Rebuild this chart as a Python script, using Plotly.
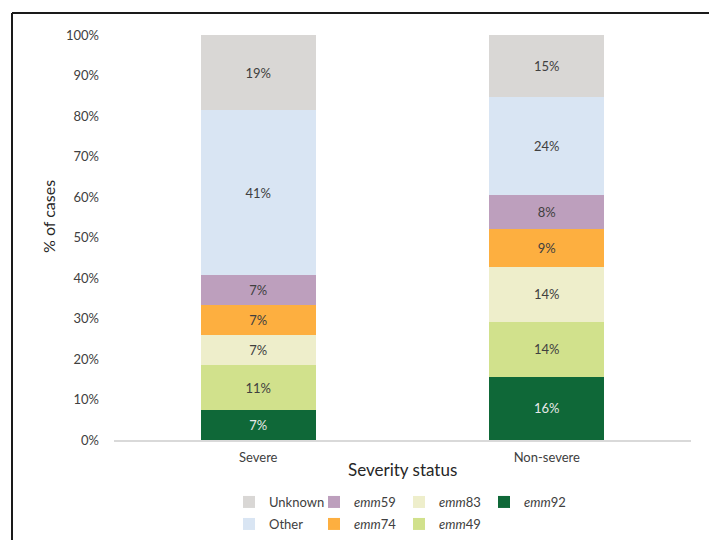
import plotly.graph_objects as go

# Categories and series (percent of cases, stacked bottom to top)
categories = ["Severe", "Non-severe"]
series_names = ["<i>emm</i>92", "<i>emm</i>49", "<i>emm</i>83", "<i>emm</i>74",
                "<i>emm</i>59", "Other", "Unknown"]
emm92 = [7.4, 15.6]
emm49 = [11.1, 13.6]
emm83 = [7.4, 13.6]
emm74 = [7.4, 9.3]
emm59 = [7.4, 8.3]
other = [40.7, 24.3]
unknown = [18.5, 15.3]
series_values = [emm92, emm49, emm83, emm74, emm59, other, unknown]

colors = ["#0f6838", "#d1e18c", "#eeeecb", "#fdaf40", "#bd9fbd", "#d9e5f3", "#d9d7d5"]
text_colors = ["#e8e8e8", "#404040", "#404040", "#404040", "#404040", "#404040", "#404040"]
# legend rows: Unknown, emm59, emm83, emm92 / Other, emm74, emm49
legend_group = ["legend", "legend2", "legend", "legend2", "legend", "legend2", "legend"]

y_ticks = list(range(0, 101, 10))
y_tick_labels = [f"{v}%" for v in y_ticks]

FONT = "Lato, 'Open Sans', sans-serif"
TXT = "#404040"

fig = go.Figure()
for name, vals, col, tcol, lg in zip(series_names, series_values, colors, text_colors, legend_group):
    fig.add_trace(go.Bar(
        x=categories, y=vals, name=name,
        marker=dict(color=col, line=dict(width=0)),
        texttemplate="%{y:.0f}%", textposition="inside", insidetextanchor="middle",
        textangle=0,
        textfont=dict(family=FONT, size=13, color=tcol),
        hoverinfo="skip", legend=lg,
    ))

L, R, T, B = 114, 18, 35, 100
W, H = 709, 540
pw, ph = W - L - R, H - T - B


def px(xp):
    return (xp - L) / pw


def py(yp):
    return (H - B - yp) / ph


legend_common = dict(
    orientation="h", traceorder="reversed", xanchor="left", yanchor="middle",
    font=dict(family=FONT, size=13, color=TXT), bgcolor="rgba(0,0,0,0)",
    entrywidth=40, entrywidthmode="pixels", itemwidth=30, tracegroupgap=0,
)

fig.update_layout(
    width=W, height=H,
    margin=dict(l=L, r=R, t=T, b=B, autoexpand=False),
    paper_bgcolor="white", plot_bgcolor="white",
    barmode="stack", bargap=0.6,
    font=dict(family=FONT, size=13, color=TXT),
    showlegend=True,
    legend=dict(x=px(229), y=py(502), **legend_common),
    legend2=dict(x=px(229), y=py(524), **legend_common),
    xaxis=dict(
        showline=True, linecolor="#d9d9d9", linewidth=1.5,
        showgrid=False, zeroline=False, ticks="", ticklabelstandoff=5,
        tickfont=dict(family=FONT, size=13, color=TXT),
    ),
    yaxis=dict(
        range=[0, 100], tickvals=y_ticks, ticktext=y_tick_labels,
        showgrid=False, zeroline=False, showline=False, ticks="",
        ticklabelstandoff=14,
        tickfont=dict(family=FONT, size=13, color=TXT),
    ),
    annotations=[
        dict(text="Severity status", xref="paper", yref="paper",
             x=px(402), y=py(470), showarrow=False, xanchor="center", yanchor="middle",
             font=dict(family=FONT, size=17, color="#262626")),
        dict(text="% of cases", xref="paper", yref="paper", textangle=-90,
             x=px(48), y=py(217), showarrow=False, xanchor="center", yanchor="middle",
             font=dict(family=FONT, size=16, color="#262626")),
    ],
    shapes=[
        dict(type="line", xref="paper", yref="paper", x0=px(12), x1=px(12),
             y0=py(560), y1=py(13), line=dict(color="#1a1a1a", width=2)),
        dict(type="line", xref="paper", yref="paper", x0=px(12), x1=px(720),
             y0=py(13), y1=py(13), line=dict(color="#1a1a1a", width=2)),
    ],
)

fig.write_html("out.html")
